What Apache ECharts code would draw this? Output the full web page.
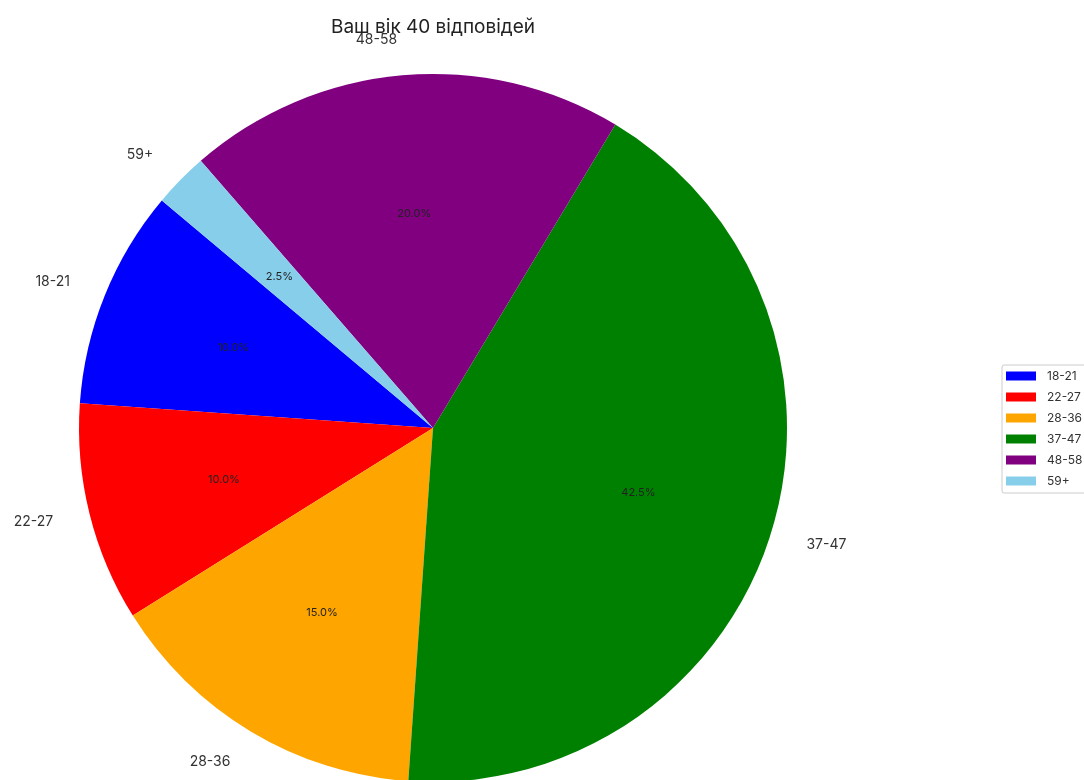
<!DOCTYPE html>
<html>
<head>
<meta charset="utf-8">
<script src="https://cdn.jsdelivr.net/npm/echarts@6/dist/echarts.min.js"></script>
<style>
    html, body { margin: 0; padding: 0; background: #fff; }
    #chart { width: 1084px; height: 780px; }
</style>
</head>
<body>
<div id="chart"></div>
<script>
const ageGroups = ['18-21', '22-27', '28-36', '37-47', '48-58', '59+'];
const answers = [4, 4, 6, 17, 8, 1];
const sliceColors = ['#0000ff', '#ff0000', '#ffa500', '#008000', '#800080', '#87ceeb'];
const chartTitle = 'Ваш вік 40 відповідей';

const total = answers.reduce((a, b) => a + b, 0);
const R = 354;
const center = [433, 428];
const fontFamily = 'Inter, "Noto Sans", sans-serif';

const chart = echarts.init(document.getElementById('chart'));

const option = {
    backgroundColor: '#fff',
    animation: false,
    title: {
        text: chartTitle,
        left: 428,
        textAlign: 'center',
        top: 13,
        textStyle: {
            color: '#222',
            fontSize: 19,
            fontWeight: 400,
            fontFamily: fontFamily,
        },
    },
    legend: {
        orient: 'vertical',
        left: 1002,
        top: 365,
        data: ageGroups,
        itemWidth: 30,
        itemHeight: 9,
        itemGap: 9,
        padding: [5, 10, 6, 4],
        borderColor: '#cccccc',
        borderWidth: 1,
        borderRadius: 2,
        icon: 'rect',
        textStyle: {
            color: '#333',
            fontSize: 12,
            fontFamily: fontFamily,
            padding: [0, 0, 0, 6],
        },
    },
    series: [
        {
            type: 'pie',
            center: center,
            radius: [0, R],
            startAngle: 140,
            clockwise: false,
            avoidLabelOverlap: false,
            color: sliceColors,
            data: ageGroups.map((name, i) => ({ name: name, value: answers[i] })),
            label: {
                show: true,
                position: 'outside',
                formatter: '{b}',
                color: '#333',
                fontSize: 14,
                fontFamily: fontFamily,
                distanceToLabelLine: 2,
            },
            labelLine: {
                show: false,
                length: R * 0.1,
                length2: 0,
            },
            emphasis: { disabled: true },
        },
        {
            type: 'pie',
            center: center,
            radius: [0, R * 1.2],
            startAngle: 140,
            clockwise: false,
            silent: true,
            avoidLabelOverlap: false,
            itemStyle: { color: 'rgba(0,0,0,0)' },
            data: ageGroups.map((name, i) => ({ name: name + ' pct', value: answers[i] })),
            label: {
                show: true,
                position: 'inside',
                formatter: (p) => (p.value / total * 100).toFixed(1) + '%',
                color: '#222',
                fontSize: 11,
                fontFamily: fontFamily,
            },
            labelLine: { show: false },
            emphasis: { disabled: true },
        },
    ],
};

chart.setOption(option);
</script>
</body>
</html>
